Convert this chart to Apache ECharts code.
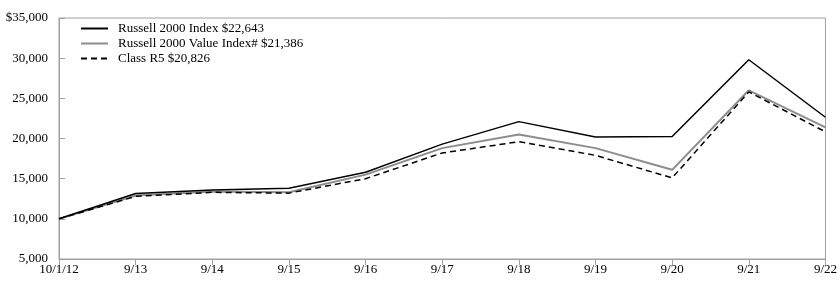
<!DOCTYPE html>
<html>
<head>
<meta charset="utf-8">
<script src="https://cdn.jsdelivr.net/npm/echarts@6/dist/echarts.min.js"></script>
<style>html,body{margin:0;padding:0;background:#fff}#c{width:840px;height:287px}</style>
</head>
<body>
<div id="c"></div>
<script>
const categories = ['10/1/12','9/13','9/14','9/15','9/16','9/17','9/18','9/19','9/20','9/21','9/22'];
const russell2000 = [10000,13150,13600,13800,15800,19300,22100,20200,20250,29800,22643];
const russell2000Value = [10000,12900,13400,13300,15500,18800,20500,18800,16100,26000,21386];
const classR5 = [10000,12800,13300,13200,15000,18200,19600,17900,15100,25800,20826];
const yTicks = [5000,10000,15000,20000,25000,30000,35000];
const names = ['Russell 2000 Index $22,643','Russell 2000 Value Index# $21,386','Class R5 $20,826'];

const font = '"Liberation Serif", "DejaVu Serif", serif';
const chart = echarts.init(document.getElementById('c'), null, {renderer:'canvas'});
chart.setOption({
  animation: false,
  backgroundColor: '#fff',
  textStyle: {fontFamily: font},
  grid: {left: 59, right: 14, top: 18, bottom: 28, show: true, borderColor: '#a0a0a0', borderWidth: 1},
  legend: {
    left: 75, top: 17, orient: 'vertical', itemGap: 2, itemWidth: 27, itemHeight: 13,
    itemStyle: {color: 'rgba(0,0,0,0)', borderWidth: 0, opacity: 0},
    textStyle: {fontFamily: font, fontSize: 13, color: '#000', padding:[0,0,0,5]},
    data: names
  },
  xAxis: {
    type: 'category', data: categories, boundaryGap: false,
    axisLine: {lineStyle: {color: '#a0a0a0'}},
    axisTick: {show: true, length: 6, lineStyle: {color: '#a0a0a0'}, alignWithLabel: true},
    axisLabel: {color: '#000', fontSize: 13, fontFamily: font, margin: 4, interval: 0},
    splitLine: {show: false}
  },
  yAxis: {
    type: 'value', min: yTicks[0], max: yTicks[yTicks.length-1], interval: 5000,
    axisLine: {show: true, lineStyle: {color: '#a0a0a0'}},
    axisTick: {show: true, inside: true, length: 6, lineStyle: {color: '#a0a0a0'}},
    axisLabel: {color: '#000', fontSize: 13, fontFamily: font, margin: 11,
      formatter: v => (v === 35000 ? '$' : '') + v.toLocaleString('en-US')},
    splitLine: {show: false}
  },
  series: [
    {name: names[0], type: 'line', data: russell2000, symbol: 'none', color: '#000',
      lineStyle: {color: '#000', width: 1.5}, z: 3},
    {name: names[1], type: 'line', data: russell2000Value, symbol: 'none', color: '#8c8c8c',
      lineStyle: {color: '#8c8c8c', width: 2}, z: 2},
    {name: names[2], type: 'line', data: classR5, symbol: 'none', color: '#000',
      lineStyle: {color: '#000', width: 1.5, type: [6,4]}, z: 4}
  ]
});
</script>
</body>
</html>
